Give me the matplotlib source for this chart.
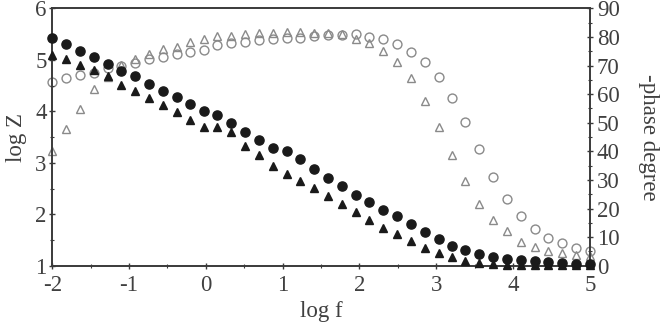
import numpy as np
import matplotlib
matplotlib.use("Agg")
import matplotlib.pyplot as plt
from matplotlib.ticker import MultipleLocator

plt.rcParams['font.family'] = ['Liberation Serif', 'DejaVu Serif']
plt.rcParams['axes.unicode_minus'] = False

# log f (decades)
log_f = [-2.00, -1.82, -1.64, -1.46, -1.28, -1.10, -0.92, -0.74, -0.56, -0.38,
         -0.21, -0.03, 0.15, 0.33, 0.51, 0.69, 0.87, 1.05, 1.23, 1.41,
         1.59, 1.77, 1.95, 2.13, 2.31, 2.49, 2.67, 2.85, 3.03, 3.21,
         3.38, 3.56, 3.74, 3.92, 4.10, 4.28, 4.46, 4.64, 4.82, 5.00]

# log Z, filled circles
logz_circ = [5.42, 5.30, 5.18, 5.05, 4.92, 4.79, 4.68, 4.53, 4.40, 4.27,
             4.14, 4.00, 3.93, 3.78, 3.60, 3.44, 3.29, 3.23, 3.08, 2.87,
             2.71, 2.54, 2.38, 2.24, 2.08, 1.97, 1.81, 1.66, 1.51, 1.39,
             1.30, 1.22, 1.16, 1.13, 1.11, 1.09, 1.07, 1.05, 1.03, 1.03]
# log Z, filled triangles
logz_tri = [5.10, 5.01, 4.90, 4.81, 4.68, 4.52, 4.40, 4.26, 4.13, 3.98,
            3.84, 3.69, 3.69, 3.60, 3.32, 3.16, 2.94, 2.79, 2.65, 2.51,
            2.35, 2.20, 2.05, 1.89, 1.74, 1.61, 1.47, 1.35, 1.24, 1.16,
            1.09, 1.05, 1.03, 1.02, 1.02, 1.01, 1.01, 1.01, 1.01, 1.01]

# -phase (degree), open circles
phase_circ = [64.3, 65.7, 66.7, 67.5, 69.0, 69.9, 70.8, 72.3, 73.1, 73.9,
              74.6, 75.4, 77.2, 77.8, 78.3, 78.9, 79.2, 79.5, 79.7, 80.3,
              80.7, 80.7, 80.9, 80.1, 79.2, 77.4, 74.6, 71.1, 66.1, 58.7,
              50.3, 40.8, 31.1, 23.2, 17.4, 12.8, 9.6, 7.8, 6.1, 5.1]
# -phase (degree), open triangles
phase_tri = [40.2, 47.7, 54.8, 61.8, 66.1, 70.2, 72.2, 74.0, 75.8, 76.6,
             78.3, 79.3, 80.4, 80.4, 80.9, 81.3, 81.5, 81.8, 81.8, 81.3,
             81.5, 81.0, 79.2, 77.8, 75.1, 71.1, 65.5, 57.6, 48.5, 38.7,
             29.6, 21.6, 16.0, 12.0, 8.4, 6.5, 5.2, 4.3, 3.7, 3.5]

dark = '#1a1a1a'
grey = '#8a8a8a'
axcol = '#3a3a3a'
txtcol = '#404040'

fig = plt.figure(figsize=(6.62, 3.24), dpi=100)
ax = fig.add_axes([0.079, 0.180, 0.812, 0.794])
ax2 = ax.twinx()

# phase on the right axis (open symbols)
ax2.plot(log_f, phase_tri, linestyle='none', marker='^', ms=6.2, mfc='none',
         mec=grey, mew=1.0, clip_on=False, zorder=2)
ax2.plot(log_f, phase_circ, linestyle='none', marker='o', ms=6.4, mfc='none',
         mec=grey, mew=1.0, clip_on=False, zorder=2)
ax2.set_ylim(0, 90)
ax2.yaxis.set_major_locator(MultipleLocator(10))
ax2.yaxis.set_minor_locator(MultipleLocator(5))

# log Z on the left axis (filled symbols), drawn on top
ax.set_zorder(ax2.get_zorder() + 1)
ax.patch.set_visible(False)
ax.plot(log_f, logz_tri, linestyle='none', marker='^', ms=6.0, color=dark,
        clip_on=False, zorder=3)
ax.plot(log_f, logz_circ, linestyle='none', marker='o', ms=6.6, color=dark,
        clip_on=False, zorder=4)
ax.set_xlim(-2, 5)
ax.set_ylim(1, 6)
ax.xaxis.set_major_locator(MultipleLocator(1))
ax.xaxis.set_minor_locator(MultipleLocator(0.5))
ax.yaxis.set_major_locator(MultipleLocator(1))
ax.yaxis.set_minor_locator(MultipleLocator(0.5))

for a in (ax, ax2):
    for s in a.spines.values():
        s.set_color(axcol)
        s.set_linewidth(1.2)
    a.tick_params(which='both', direction='inout', colors=axcol,
                  labelcolor=txtcol, labelsize=16.5)
    a.tick_params(which='major', length=4, width=1)
    a.tick_params(which='minor', length=3, width=0.8)

ax.tick_params(axis='x', pad=5)
ax.tick_params(axis='y', pad=2)
ax2.tick_params(axis='y', pad=3)

ax.set_xlabel('log f', fontsize=16.5, color=txtcol, labelpad=3)
ax.set_ylabel('log Z', fontsize=16.5, color=txtcol, labelpad=6)
ax2.set_ylabel('-phase degree', fontsize=16.5, color=txtcol, rotation=270,
               labelpad=28)

fig.savefig('out.png', dpi=100)
